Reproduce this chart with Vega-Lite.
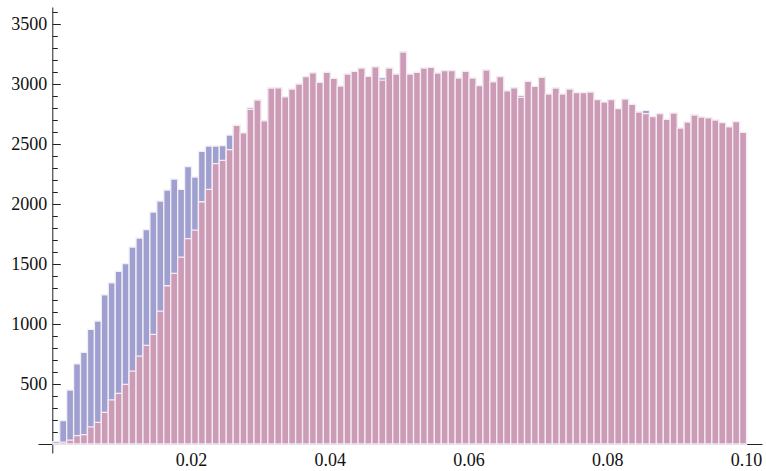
{
  "$schema": "https://vega.github.io/schema/vega-lite/v6.json",
  "width": 724,
  "height": 446,
  "padding": {"left": 38, "top": 7, "right": 4, "bottom": 18},
  "autosize": {"type": "none"},
  "background": "white",
  "config": {
    "view": {"stroke": null},
    "bar": {"binSpacing": 0},
    "font": "Liberation Serif",
    "axis": {
      "labelFont": "Liberation Serif",
      "labelFontSize": 18,
      "labelColor": "#111111",
      "tickColor": "#222222",
      "domainColor": "#222222",
      "grid": false,
      "title": null
    }
  },
  "data": {
    "values": [
      {"start": 0.000, "blue": 20, "pink": 0},
      {"start": 0.001, "blue": 194, "pink": 15},
      {"start": 0.002, "blue": 450, "pink": 33},
      {"start": 0.003, "blue": 667, "pink": 69},
      {"start": 0.004, "blue": 764, "pink": 78},
      {"start": 0.005, "blue": 956, "pink": 142},
      {"start": 0.006, "blue": 1025, "pink": 181},
      {"start": 0.007, "blue": 1244, "pink": 264},
      {"start": 0.008, "blue": 1344, "pink": 367},
      {"start": 0.009, "blue": 1439, "pink": 422},
      {"start": 0.010, "blue": 1503, "pink": 497},
      {"start": 0.011, "blue": 1642, "pink": 608},
      {"start": 0.012, "blue": 1717, "pink": 733},
      {"start": 0.013, "blue": 1786, "pink": 822},
      {"start": 0.014, "blue": 1933, "pink": 914},
      {"start": 0.015, "blue": 2025, "pink": 1108},
      {"start": 0.016, "blue": 2117, "pink": 1319},
      {"start": 0.017, "blue": 2208, "pink": 1422},
      {"start": 0.018, "blue": 2122, "pink": 1558},
      {"start": 0.019, "blue": 2311, "pink": 1711},
      {"start": 0.020, "blue": 2225, "pink": 1783},
      {"start": 0.021, "blue": 2439, "pink": 2019},
      {"start": 0.022, "blue": 2483, "pink": 2122},
      {"start": 0.023, "blue": 2483, "pink": 2336},
      {"start": 0.024, "blue": 2486, "pink": 2364},
      {"start": 0.025, "blue": 2575, "pink": 2453},
      {"start": 0.026, "blue": 2656, "pink": 2656},
      {"start": 0.027, "blue": 2594, "pink": 2594},
      {"start": 0.028, "blue": 2803, "pink": 2789},
      {"start": 0.029, "blue": 2867, "pink": 2867},
      {"start": 0.030, "blue": 2694, "pink": 2694},
      {"start": 0.031, "blue": 2967, "pink": 2967},
      {"start": 0.032, "blue": 2969, "pink": 2969},
      {"start": 0.033, "blue": 2894, "pink": 2894},
      {"start": 0.034, "blue": 2958, "pink": 2958},
      {"start": 0.035, "blue": 3000, "pink": 3000},
      {"start": 0.036, "blue": 3061, "pink": 3061},
      {"start": 0.037, "blue": 3094, "pink": 3094},
      {"start": 0.038, "blue": 3014, "pink": 3014},
      {"start": 0.039, "blue": 3097, "pink": 3097},
      {"start": 0.040, "blue": 3047, "pink": 3047},
      {"start": 0.041, "blue": 2983, "pink": 2983},
      {"start": 0.042, "blue": 3083, "pink": 3083},
      {"start": 0.043, "blue": 3106, "pink": 3106},
      {"start": 0.044, "blue": 3133, "pink": 3133},
      {"start": 0.045, "blue": 3064, "pink": 3064},
      {"start": 0.046, "blue": 3144, "pink": 3144},
      {"start": 0.047, "blue": 3053, "pink": 3033},
      {"start": 0.048, "blue": 3133, "pink": 3133},
      {"start": 0.049, "blue": 3083, "pink": 3083},
      {"start": 0.050, "blue": 3267, "pink": 3267},
      {"start": 0.051, "blue": 3083, "pink": 3083},
      {"start": 0.052, "blue": 3097, "pink": 3097},
      {"start": 0.053, "blue": 3133, "pink": 3133},
      {"start": 0.054, "blue": 3139, "pink": 3139},
      {"start": 0.055, "blue": 3092, "pink": 3092},
      {"start": 0.056, "blue": 3111, "pink": 3111},
      {"start": 0.057, "blue": 3111, "pink": 3111},
      {"start": 0.058, "blue": 3050, "pink": 3050},
      {"start": 0.059, "blue": 3106, "pink": 3106},
      {"start": 0.060, "blue": 3050, "pink": 3050},
      {"start": 0.061, "blue": 2986, "pink": 2986},
      {"start": 0.062, "blue": 3117, "pink": 3117},
      {"start": 0.063, "blue": 3019, "pink": 3019},
      {"start": 0.064, "blue": 3061, "pink": 3061},
      {"start": 0.065, "blue": 2944, "pink": 2944},
      {"start": 0.066, "blue": 2969, "pink": 2969},
      {"start": 0.067, "blue": 2906, "pink": 2889},
      {"start": 0.068, "blue": 3022, "pink": 3022},
      {"start": 0.069, "blue": 2981, "pink": 2981},
      {"start": 0.070, "blue": 3056, "pink": 3056},
      {"start": 0.071, "blue": 2917, "pink": 2917},
      {"start": 0.072, "blue": 2967, "pink": 2967},
      {"start": 0.073, "blue": 2917, "pink": 2917},
      {"start": 0.074, "blue": 2958, "pink": 2958},
      {"start": 0.075, "blue": 2928, "pink": 2928},
      {"start": 0.076, "blue": 2928, "pink": 2928},
      {"start": 0.077, "blue": 2933, "pink": 2933},
      {"start": 0.078, "blue": 2870, "pink": 2870},
      {"start": 0.079, "blue": 2850, "pink": 2850},
      {"start": 0.080, "blue": 2870, "pink": 2870},
      {"start": 0.081, "blue": 2795, "pink": 2795},
      {"start": 0.082, "blue": 2875, "pink": 2875},
      {"start": 0.083, "blue": 2831, "pink": 2831},
      {"start": 0.084, "blue": 2767, "pink": 2767},
      {"start": 0.085, "blue": 2781, "pink": 2753},
      {"start": 0.086, "blue": 2728, "pink": 2728},
      {"start": 0.087, "blue": 2753, "pink": 2753},
      {"start": 0.088, "blue": 2706, "pink": 2706},
      {"start": 0.089, "blue": 2758, "pink": 2758},
      {"start": 0.090, "blue": 2633, "pink": 2633},
      {"start": 0.091, "blue": 2683, "pink": 2683},
      {"start": 0.092, "blue": 2742, "pink": 2742},
      {"start": 0.093, "blue": 2725, "pink": 2725},
      {"start": 0.094, "blue": 2719, "pink": 2719},
      {"start": 0.095, "blue": 2700, "pink": 2700},
      {"start": 0.096, "blue": 2678, "pink": 2678},
      {"start": 0.097, "blue": 2644, "pink": 2644},
      {"start": 0.098, "blue": 2686, "pink": 2686},
      {"start": 0.099, "blue": 2597, "pink": 2597}
    ]
  },
  "layer": [
    {
      "mark": {"type": "bar", "color": "#a0a0d0", "stroke": "#f2eef6", "strokeWidth": 1.3},
      "encoding": {
        "x": {
          "field": "start", "type": "quantitative",
          "bin": {"binned": true, "step": 0.001},
          "scale": {"domain": [-0.00206, 0.1023], "nice": false, "zero": false},
          "axis": {
            "orient": "bottom", "offset": -9,
            "values": [0.02, 0.04, 0.06, 0.08, 0.1],
            "format": ".2f", "tickSize": -8, "labelPadding": 15,
            "labelFont": "Liberation Serif", "labelFontSize": 18,
            "labelFlush": false, "labelOverlap": false
          }
        },
        "y": {
          "field": "blue", "type": "quantitative",
          "scale": {"domain": [-75, 3642], "nice": false, "zero": false},
          "axis": {
            "orient": "left", "offset": -14.3,
            "values": [500, 1000, 1500, 2000, 2500, 3000, 3500],
            "format": "d", "tickSize": -8, "labelPadding": 13.6,
            "labelFont": "Liberation Serif", "labelFontSize": 18,
            "labelFlush": false, "labelOverlap": false
          }
        }
      }
    },
    {
      "mark": {"type": "bar", "color": "#cc9cb7", "stroke": "#f4eaf1", "strokeWidth": 1.3},
      "encoding": {
        "x": {
          "field": "start", "type": "quantitative",
          "bin": {"binned": true, "step": 0.001},
          "scale": {"domain": [-0.00206, 0.1023], "nice": false, "zero": false},
          "axis": {
            "orient": "bottom", "offset": -9,
            "values": [0.005, 0.01, 0.015, 0.025, 0.03, 0.035, 0.045, 0.05, 0.055, 0.065, 0.07, 0.075, 0.085, 0.09, 0.095],
            "labels": false, "domain": false, "tickSize": -5
          }
        },
        "y": {
          "field": "pink", "type": "quantitative",
          "scale": {"domain": [-75, 3642], "nice": false, "zero": false},
          "axis": {
            "orient": "left", "offset": -14.3,
            "values": [100, 200, 300, 400, 600, 700, 800, 900, 1100, 1200, 1300, 1400, 1600, 1700, 1800, 1900, 2100, 2200, 2300, 2400, 2600, 2700, 2800, 2900, 3100, 3200, 3300, 3400, 3600],
            "labels": false, "domain": false, "tickSize": -5
          }
        }
      }
    }
  ],
  "resolve": {"axis": {"x": "independent", "y": "independent"}}
}
